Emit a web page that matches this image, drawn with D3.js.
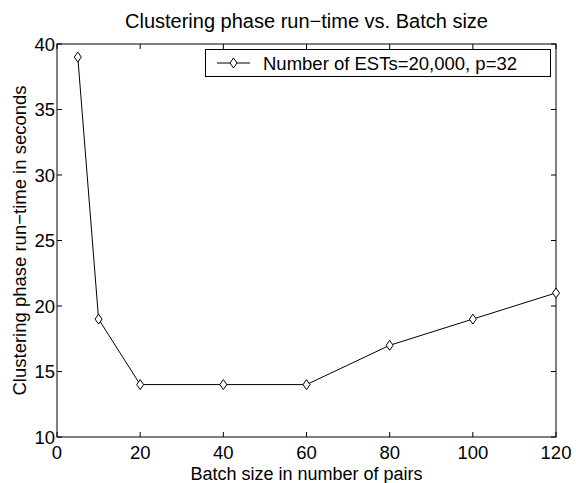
<!DOCTYPE html>
<html><head><meta charset="utf-8">
<script src="https://cdn.jsdelivr.net/npm/d3@7"></script>
<style>body{margin:0;background:#fff}svg{display:block}text{font-family:"Liberation Sans",Arial,Helvetica,sans-serif;fill:#000}</style>
</head><body>
<script>
const batchSizes = [5, 10, 20, 40, 60, 80, 100, 120];
const runTimes = [39, 19, 14, 14, 14, 17, 19, 21];
const xTicks = [0, 20, 40, 60, 80, 100, 120];
const yTicks = [10, 15, 20, 25, 30, 35, 40];
const seriesName = "Number of ESTs=20,000, p=32";

const W = 576, H = 483;
const m = {left: 57, right: 20, top: 44, bottom: 46};
const svg = d3.select("body").append("svg").attr("width", W).attr("height", H);
const x = d3.scaleLinear().domain([0, 120]).range([m.left, W - m.right]);
const y = d3.scaleLinear().domain([10, 40]).range([H - m.bottom, m.top]);
const fs = 18.5;

const g = svg.append("g");
g.append("rect").attr("x", x(0)).attr("y", y(40)).attr("width", x(120) - x(0)).attr("height", y(10) - y(40))
  .attr("fill", "none").attr("stroke", "#000").attr("stroke-width", 1);
const tl = 5;
xTicks.forEach(t => {
  g.append("line").attr("x1", x(t)).attr("x2", x(t)).attr("y1", y(10)).attr("y2", y(10) - tl).attr("stroke", "#000");
  g.append("line").attr("x1", x(t)).attr("x2", x(t)).attr("y1", y(40)).attr("y2", y(40) + tl).attr("stroke", "#000");
  g.append("text").attr("x", x(t)).attr("y", y(10) + 21.5).attr("text-anchor", "middle").attr("font-size", fs).text(t);
});
yTicks.forEach(t => {
  g.append("line").attr("x1", x(0)).attr("x2", x(0) + tl).attr("y1", y(t)).attr("y2", y(t)).attr("stroke", "#000");
  g.append("line").attr("x1", x(120)).attr("x2", x(120) - tl).attr("y1", y(t)).attr("y2", y(t)).attr("stroke", "#000");
  g.append("text").attr("x", x(0) - 2).attr("y", y(t) + 6.5).attr("text-anchor", "end").attr("font-size", fs).text(t);
});

const pts = batchSizes.map((b, i) => [b, runTimes[i]]);
g.append("path").datum(pts).attr("fill", "none").attr("stroke", "#000").attr("stroke-width", 1)
  .attr("d", d3.line().x(d => x(d[0])).y(d => y(d[1])));
const diamond = (cx, cy) => `M${cx},${cy-5}L${cx+3.5},${cy}L${cx},${cy+5}L${cx-3.5},${cy}Z`;
g.selectAll(".mk").data(pts).join("path").attr("d", d => diamond(x(d[0]), y(d[1])))
  .attr("fill", "#fff").attr("stroke", "#000").attr("stroke-width", 1);

svg.append("text").attr("x", (x(0) + x(120)) / 2).attr("y", 28).attr("text-anchor", "middle").attr("font-size", 20)
  .text("Clustering phase run\u2212time vs. Batch size");
svg.append("text").attr("x", (x(0) + x(120)) / 2).attr("y", 479.5).attr("text-anchor", "middle").attr("font-size", 18)
  .text("Batch size in number of pairs");
svg.append("text").attr("transform", `translate(26,${(y(10) + y(40)) / 2}) rotate(-90)`).attr("text-anchor", "middle").attr("font-size", fs)
  .text("Clustering phase run\u2212time in seconds");

const lg = svg.append("g");
lg.append("rect").attr("x", 205.5).attr("y", 49.5).attr("width", 345).attr("height", 27).attr("fill", "#fff").attr("stroke", "#000");
lg.append("line").attr("x1", 217).attr("x2", 250).attr("y1", 63).attr("y2", 63).attr("stroke", "#000");
lg.append("path").attr("d", diamond(233.5, 63)).attr("fill", "#fff").attr("stroke", "#000");
lg.append("text").attr("x", 263).attr("y", 69.5).attr("font-size", fs).text(seriesName);
</script>
</body></html>
